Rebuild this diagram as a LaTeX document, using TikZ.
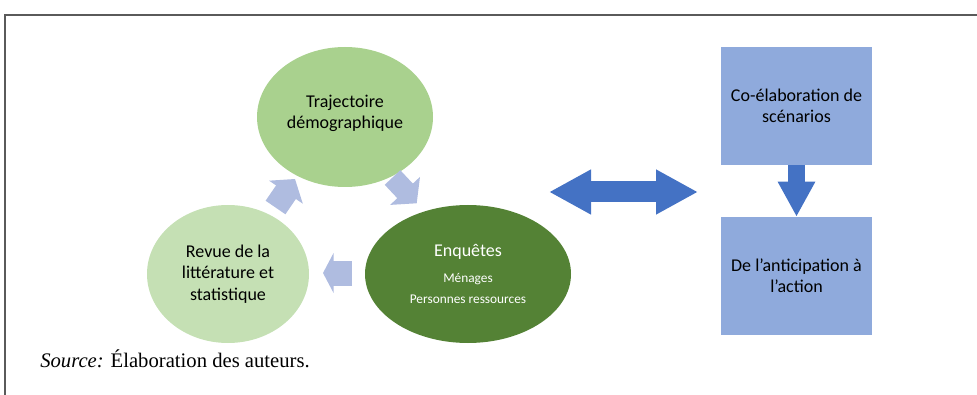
\documentclass[tikz,border=0pt]{standalone}
\usepackage{fontspec}
\setmainfont{Liberation Serif}
\newfontfamily\carlito{Carlito}
\usepackage{tikz}
\usetikzlibrary{arrows.meta,shapes,positioning}
\usepackage{xcolor}
\definecolor{framegray}{RGB}{90,90,90}
\definecolor{trajgreen}{RGB}{169,209,142}
\definecolor{revuegreen}{RGB}{197,224,180}
\definecolor{enqgreen}{RGB}{84,130,53}
\definecolor{boxblue}{RGB}{143,170,220}
\definecolor{arrowblue}{RGB}{68,114,196}
\definecolor{cycleblue}{RGB}{175,188,224}
\tikzstyle{stage} = [ellipse, inner sep=0pt, align=center, font=\carlito\fontsize{13.5}{16}\selectfont]
\tikzstyle{stagebox} = [rectangle, fill=boxblue, inner sep=0pt, minimum width=113.25pt, minimum height=88.5pt, align=center, font=\carlito\fontsize{13.5}{15.5}\selectfont]
\tikzstyle{cyclearrow} = [cycleblue, line width=18pt]

\begin{document}
\begin{tikzpicture}[x=0.75pt, y=-0.75pt]
\useasboundingbox (0,0) rectangle (977,395);
% Frame
\draw[framegray, line width=1.5pt] (5,395) -- (5,15) -- (977,15);

% Nodes
\node[stage, fill=trajgreen, minimum width=132pt, minimum height=105pt] (traj) at (345,117) {Trajectoire\\d\'emographique\\[-8.5pt]};
\node[stage, fill=revuegreen, minimum width=121.5pt, minimum height=103.5pt] (revue) at (228,274) {Revue de la\\litt\'erature et\\statistique};
\node[stage, fill=enqgreen, text=white, minimum width=154.5pt, minimum height=103.5pt, font=\carlito\fontsize{10}{15.75}\selectfont] (enq) at (468,274) {{\fontsize{13.5}{16}\selectfont Enqu\^etes}\\[3.75pt]M\'enages\\Personnes ressources};
\node[stagebox] (coelab) at (796.5,106) {Co-\'elaboration de\\sc\'enarios};
\node[stagebox] (action) at (796.5,276) {De l’anticipation \`a\\l’action};
\node[anchor=base west, inner sep=0pt, font=\fontsize{15.5}{18}\selectfont] (source) at (40,367) {\textit{Source:} \'Elaboration des auteurs.};

% Cycle arrows
\coordinate (a1s) at (275.5,207.5);
\coordinate (a1e) at (295,179);
\coordinate (a2s) at (392.5,177.5);
\coordinate (a2e) at (416.7,203.3);
\coordinate (a3s) at (352,273);
\coordinate (a3e) at (323,273);
\draw[cyclearrow, -{Triangle[length=12pt,width=30pt]}] (a1s) -- (a1e);
\draw[cyclearrow, line width=16pt, -{Triangle[length=12.75pt,width=30pt]}] (a2s) -- (a2e);
\draw[cyclearrow, line width=18.75pt, -{Triangle[length=8pt,width=30pt]}] (a3s) -- (a3e);

% Exchange and flow
\coordinate (dblL) at (549,192);
\coordinate (dblR) at (698,192);
\draw[arrowblue, line width=15.75pt, {Triangle[length=31.5pt,width=31.5pt]}-{Triangle[length=31.5pt,width=31.5pt]}] (dblL) -- (dblR);
\draw[arrowblue, line width=12.75pt, -{Triangle[length=26.25pt,width=26.25pt]}] (coelab.south) -- (action.north);
\end{tikzpicture}
\end{document}
